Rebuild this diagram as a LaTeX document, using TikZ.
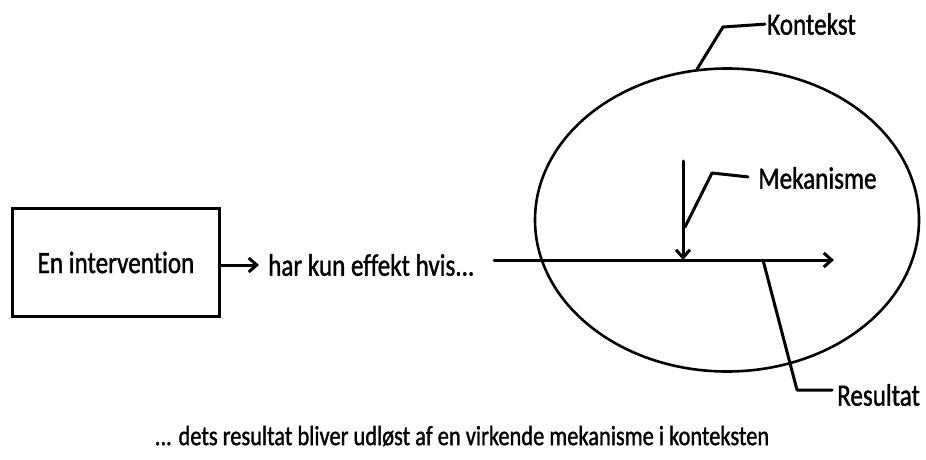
\documentclass[tikz,border=0pt]{standalone}
\usepackage{fontspec}
\setmainfont[FakeStretch=0.81,FakeBold=1.2,Ligatures=NoCommon]{Carlito}
\usetikzlibrary{arrows.meta,shapes.geometric}
\begin{document}
\begin{tikzpicture}[x=1pt,y=-1pt,
  lbl/.style={font=\fontsize{31}{36}\selectfont, inner sep=0pt},
  ln/.style={line width=3pt, line cap=round, line join=round},
  arr/.style={ln, -{Straight Barb[length=8pt,width=14pt,line width=3pt]}}]
\useasboundingbox (0,0) rectangle (926,460);
\node[draw, line width=3pt, minimum width=207pt, minimum height=108pt, lbl, anchor=north west] (box) at (11,207) {En intervention};
\node[lbl, anchor=west] (har) at (268,265) {har kun effekt hvis...};
\draw[arr, shorten >=9pt] (box.east |- 0,265) -- (har.west);
\node[draw, ellipse, line width=2.6pt, minimum width=384pt, minimum height=303pt, inner sep=0pt] (ctx) at (727,220) {};
\coordinate (start) at (494,260);
\coordinate (end) at (834,260);
\draw[arr] (start) -- (end);
\coordinate (mtop) at (683,161);
\coordinate (mbot) at (683,260);
\draw[arr] (mtop) -- (mbot);
\node[lbl, anchor=west] (mek) at (758,178) {Mekanisme};
\draw[ln, shorten >=10pt] (685,227) -- (712,173) -- (mek.west);
\node[lbl, anchor=west] (kon) at (767,24) {Kontekst};
\draw[ln, shorten >=2pt] (ctx.north) ++(-30,2) -- (723,27) -- (kon.west);
\node[lbl, anchor=west] (res) at (837,395) {Resultat};
\draw[ln, shorten >=5pt] (763,260) -- (797,390) -- (res.west |- 0,390);
\node[lbl, font=\fontsize{27.7}{32}\selectfont] (cap) at (462,436) {... dets resultat bliver udløst af en virkende mekanisme i konteksten};
\end{tikzpicture}
\end{document}
